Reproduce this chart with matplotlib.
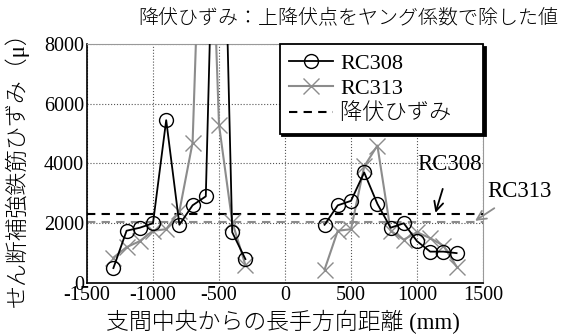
import numpy as np
import matplotlib
matplotlib.use('Agg')
import matplotlib.pyplot as plt

plt.rcParams['font.family'] = ['Liberation Serif', 'Noto Sans CJK JP']
plt.rcParams['axes.unicode_minus'] = False

# 測定位置 (mm)  左側・右側
x_left = [-1300, -1200, -1100, -1000, -900, -800, -700, -600, -500, -400, -300]
x_right = [300, 400, 500, 600, 700, 800, 900, 1000, 1100, 1200, 1300]

# せん断補強鉄筋ひずみ (μ)
rc308_left = [500, 1750, 1850, 2000, 5450, 1950, 2600, 2900, 20000, 1700, 800]
rc308_right = [1950, 2600, 2750, 3700, 2650, 1850, 2000, 1400, 1050, 1050, 1000]
rc313_left = [850, 1200, 1400, 1750, 1800, 2400, 4700, 18000, 5300, 2050, 600]
rc313_right = [450, 1750, 1800, 3900, 4600, 1750, 1450, 1700, 1500, 1250, 550]

# 降伏ひずみ
yield_rc308 = 2300
yield_rc313 = 2050

fig = plt.figure(figsize=(5.62, 3.34), dpi=100)
ax = fig.add_axes([0.1548, 0.1527, 0.7046, 0.7156])

gray = '#8c8c8c'
jp = dict(fontweight='light')

ax.axhline(yield_rc308, color='black', ls=(0, (4, 3)), lw=1.5, zorder=2)
ax.axhline(yield_rc313, color=gray, ls=(0, (4, 3)), lw=1.5, zorder=2)

for xs, ys in [(x_left, rc313_left), (x_right, rc313_right)]:
    ax.plot(xs, ys, color=gray, lw=1.5, marker='x', ms=11, mew=1.0, zorder=3)
for xs, ys in [(x_left, rc308_left), (x_right, rc308_right)]:
    ax.plot(xs, ys, color='black', lw=1.3, marker='o', ms=10, mfc='none', mew=1.0, zorder=4)

# 凡例用
h1, = ax.plot([], [], color='black', lw=1.3, marker='o', ms=10, mfc='none', mew=1.0)
h2, = ax.plot([], [], color=gray, lw=1.5, marker='x', ms=11, mew=1.0)
h3, = ax.plot([], [], color='black', ls=(0, (4, 3)), lw=1.5)

ax.set_xlim(-1500, 1500)
ax.set_ylim(0, 8000)
ax.set_xticks([-1500, -1000, -500, 0, 500, 1000, 1500])
ax.set_yticks([0, 2000, 4000, 6000, 8000])
ax.grid(True, ls=':', color='#555555', lw=0.8)
ax.tick_params(direction='in', length=0, labelsize=14.5, pad=2)
for s in ['top', 'right']:
    ax.spines[s].set_color('#999999')
for s in ['left', 'bottom']:
    ax.spines[s].set_linewidth(1.2)

leg = ax.legend([h1, h2, h3], ['RC308', 'RC313', '降伏ひずみ\u3000'],
                loc='upper right', bbox_to_anchor=(1.0, 1.0), borderaxespad=0,
                fancybox=False, shadow={'color': 'black', 'alpha': 1},
                edgecolor='black', framealpha=1,
                prop=dict(size=16, weight='light'),
                handlelength=2.0, labelspacing=0.2, borderpad=0.42, handletextpad=0.3)
leg.get_frame().set_linewidth(1.3)

ax.annotate('RC308', xy=(1140, 2350), xytext=(1250, 3950), ha='center', va='center',
            fontsize=16.5, arrowprops=dict(arrowstyle='->', color='black', lw=1.3,
                                           shrinkA=8, shrinkB=0))
ax.annotate('RC313', xy=(1440, 2080), xytext=(1530, 3050), ha='left', va='center',
            fontsize=16.5, annotation_clip=False,
            arrowprops=dict(arrowstyle='->', color=gray, lw=1.3, shrinkA=4, shrinkB=0))

fig.text(0.993, 0.94, '降伏ひずみ：上降伏点をヤング係数で除した値', fontsize=14.4,
         ha='right', va='center', **jp)
fig.text(0.503, 0.035, '支間中央からの長手方向距離 (mm)', fontsize=16.5,
         ha='center', va='center', **jp)
fig.text(0.03, 0.51, 'せん断補強鉄筋ひずみ（μ）', fontsize=16.5, rotation=90,
         ha='center', va='center', **jp)

fig.savefig('out.png', dpi=100)
